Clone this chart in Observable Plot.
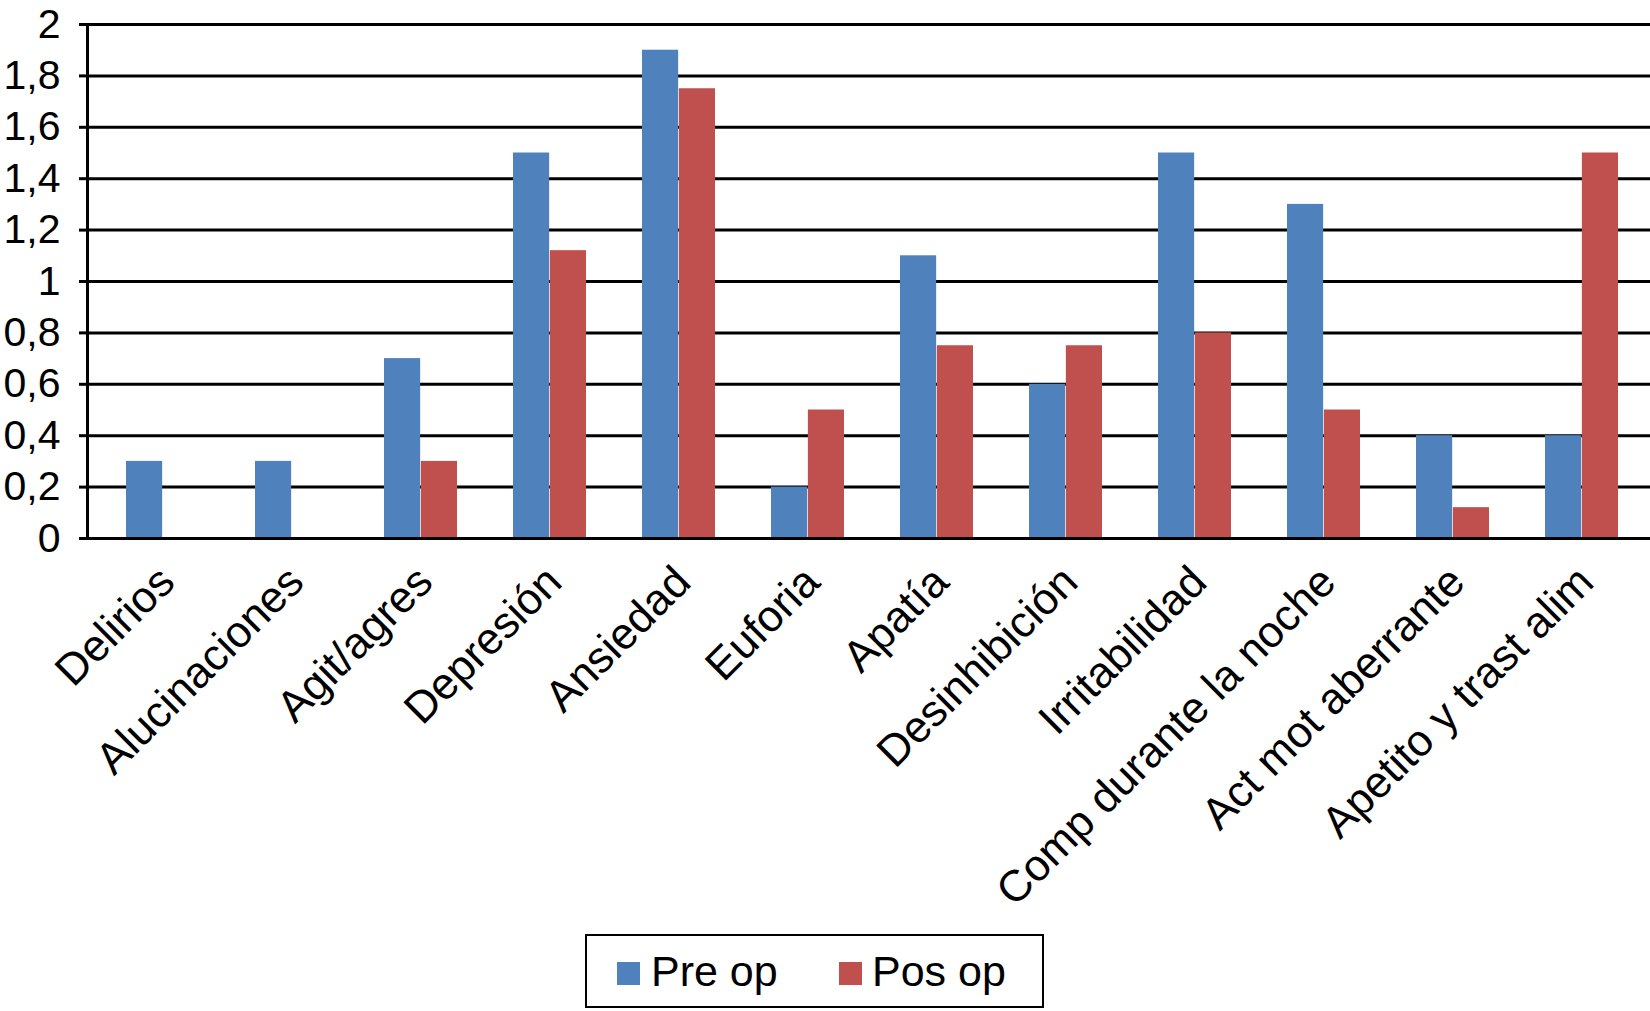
<!DOCTYPE html>
<html>
<head>
<meta charset="utf-8">
<script src="https://cdn.jsdelivr.net/npm/d3@7"></script>
<script src="https://cdn.jsdelivr.net/npm/@observablehq/plot@0.6"></script>
<style>
  html, body { margin: 0; padding: 0; background: #fff; }
  body { width: 1650px; height: 1011px; position: relative; overflow: hidden; font-family: "Liberation Sans", Arial, Helvetica, sans-serif; }
  #chart svg { display: block; }
  #legend { position: absolute; left: 585px; top: 934px; width: 455px; height: 70px; border: 2.5px solid #000; background: #fff; }
  .sw { position: absolute; width: 23px; height: 23px; top: 26px; }
  .lt { position: absolute; top: 11px; font-size: 43px; line-height: 48px; color: #000; }
</style>
</head>
<body>
<div id="chart"></div>
<div id="legend"></div>
<script>
const categories = ["Delirios", "Alucinaciones", "Agit/agres", "Depresión", "Ansiedad", "Euforia", "Apatía", "Desinhibición", "Irritabilidad", "Comp durante la noche", "Act mot aberrante", "Apetito y trast alim"];
const preOp = [0.3, 0.3, 0.7, 1.5, 1.9, 0.2, 1.1, 0.6, 1.5, 1.3, 0.4, 0.4];
const posOp = [0, 0, 0.3, 1.12, 1.75, 0.5, 0.75, 0.75, 0.8, 0.5, 0.12, 1.5];
const seriesNames = ["Pre op", "Pos op"];
const seriesColors = ["#4F81BD", "#C0504D"];
const yTicks = [0, 0.2, 0.4, 0.6, 0.8, 1, 1.2, 1.4, 1.6, 1.8, 2];
const yTickLabels = ["0", "0,2", "0,4", "0,6", "0,8", "1", "1,2", "1,4", "1,6", "1,8", "2"];

const pre = categories.map((c, i) => ({category: c, value: preOp[i]}));
const pos = categories.map((c, i) => ({category: c, value: posOp[i]}));

const W = 1650, H = 926;
const marginLeft = 87, marginTop = 24, marginBottom = H - 538;
const bandStart = 93, bandEnd = 1651;
const step = (bandEnd - bandStart) / categories.length;
const bw = 73.7;
const half = bw / 2;

const chart = Plot.plot({
  width: W,
  height: H,
  marginLeft,
  marginRight: 0,
  marginTop,
  marginBottom,
  style: {fontFamily: '"Liberation Sans", Arial, Helvetica, sans-serif', fontSize: "41px", color: "#000", background: "#fff"},
  x: {domain: categories, range: [bandStart, bandEnd], paddingInner: 1 - bw / step, paddingOuter: (1 - bw / step) / 2, label: null},
  y: {domain: [0, 2], label: null},
  marks: [
    Plot.ruleY(yTicks, {stroke: "#000", strokeWidth: 3}),
    Plot.barY(pre, {x: "category", y: "value", fill: seriesColors[0], insetRight: half}),
    Plot.barY(pos, {x: "category", y: "value", fill: seriesColors[1], insetLeft: half}),
    Plot.ruleY([0], {stroke: "#000", strokeWidth: 3}),
    Plot.frame({anchor: "left", stroke: "#000", strokeWidth: 3}),
    Plot.axisY({ticks: yTicks, tickFormat: (d) => yTickLabels[yTicks.indexOf(d)], tickSize: 8, tickPadding: 19, stroke: "#000", strokeWidth: 3, fontSize: 41, label: null}),
    Plot.axisX({tickSize: 0, tickRotate: -45, tickPadding: 36, dx: 4, fontSize: 44, label: null})
  ]
});
document.getElementById("chart").appendChild(chart);

const legend = document.getElementById("legend");
const items = [{x: 30, tx: 64}, {x: 252, tx: 285}];
seriesNames.forEach((name, i) => {
  const sw = document.createElement("div");
  sw.className = "sw";
  sw.style.left = items[i].x + "px";
  sw.style.background = seriesColors[i];
  legend.appendChild(sw);
  const t = document.createElement("div");
  t.className = "lt";
  t.style.left = items[i].tx + "px";
  t.textContent = name;
  legend.appendChild(t);
});
</script>
</body>
</html>
